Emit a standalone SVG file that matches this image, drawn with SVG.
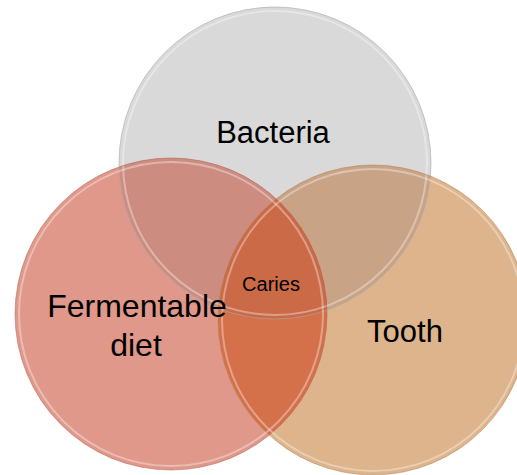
<svg xmlns="http://www.w3.org/2000/svg" width="517" height="475" viewBox="0 0 517 475">
<style>
.lbl{font-family:"Liberation Sans",Arial,sans-serif;fill:#000;text-anchor:middle}
.big{font-size:31px}
.fd{font-size:32px}
.small{font-size:20px}
.rim{fill:none;stroke:#ffffff;stroke-opacity:0.35;stroke-width:2}
</style>
<defs>
<clipPath id="cB"><circle cx="275" cy="163" r="156"/></clipPath>
<clipPath id="cD"><circle cx="171" cy="314" r="156"/></clipPath>
<clipPath id="cT"><circle cx="373" cy="320" r="155"/></clipPath>
</defs>
<rect width="517" height="475" fill="#ffffff"/>
<g id="bacteria">
<circle cx="275" cy="163" r="156" fill="#d9d9d9"/>
</g>
<g id="diet">
<circle cx="171" cy="314" r="156" fill="#e0988a"/>
</g>
<g id="tooth">
<circle cx="373" cy="320" r="155" fill="#ddb48c"/>
</g>
<g id="overlaps">
<circle cx="171" cy="314" r="156" fill="#cc8d80" clip-path="url(#cB)"/>
<circle cx="373" cy="320" r="155" fill="#c9a386" clip-path="url(#cB)"/>
<circle cx="373" cy="320" r="155" fill="#d4714b" clip-path="url(#cD)"/>
<g clip-path="url(#cD)"><circle cx="373" cy="320" r="155" fill="#cb6a47" clip-path="url(#cB)"/></g>
</g>
<g id="rims">
<circle cx="275" cy="163" r="156" fill="none" stroke="#a8a8a8" stroke-opacity="0.6" stroke-width="1"/>
<circle cx="275" cy="163" r="152" class="rim"/>
<circle cx="171" cy="314" r="156" fill="none" stroke="#b0604f" stroke-opacity="0.5" stroke-width="1"/>
<circle cx="171" cy="314" r="152" class="rim"/>
<circle cx="373" cy="320" r="155" fill="none" stroke="#b08050" stroke-opacity="0.5" stroke-width="1"/>
<circle cx="373" cy="320" r="151" class="rim"/>
</g>
<g id="labels">
<text class="lbl big" x="273" y="143">Bacteria</text>
<text class="lbl fd" x="137" y="317">Fermentable</text>
<text class="lbl fd" x="136" y="356">diet</text>
<text class="lbl big" x="405" y="342">Tooth</text>
<text class="lbl small" x="271" y="291">Caries</text>
</g>
</svg>
